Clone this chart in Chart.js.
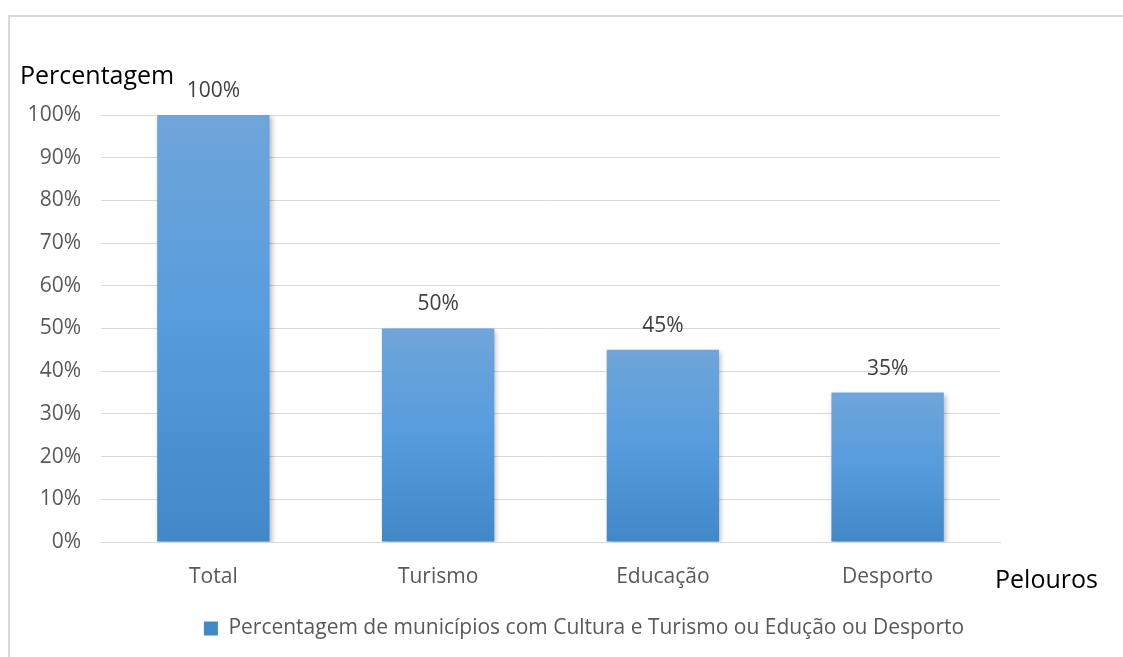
<!DOCTYPE html>
<html>
<head>
<meta charset="utf-8">
<script src="https://cdn.jsdelivr.net/npm/chart.js@4.4.1/dist/chart.umd.min.js"></script>
<style>
  html, body { margin: 0; padding: 0; background: #fff; overflow: hidden; }
  #frame {
    position: absolute; left: 8px; top: 15px;
    width: 1150px; height: 660px;
    border: 2px solid #d9d9d9; overflow: hidden;
  }
  #wrap { position: absolute; left: 0; top: 0; width: 1148px; height: 640px; }
</style>
</head>
<body>
<div id="frame"><div id="wrap"><canvas id="chart"></canvas></div></div>
<script>
// data
const pelouros = ['Total', 'Turismo', 'Educação', 'Desporto'];
const percentagens = [100, 50, 45, 35];
const yTicks = [0, 10, 20, 30, 40, 50, 60, 70, 80, 90, 100];
const serieNome = 'Percentagem de municípios com Cultura e Turismo ou Edução ou Desporto';

const FONT = "'Open Sans', sans-serif";

function barFill(ctx) {
    const chart = ctx.chart;
    if (!chart.chartArea || ctx.type !== 'data') return '#5A9BDB';
    const y = chart.scales.y;
    const top = y.getPixelForValue(ctx.raw);
    const bottom = y.getPixelForValue(0);
    const g = chart.ctx.createLinearGradient(0, top, 0, bottom);
    g.addColorStop(0, '#6FA5DA');
    g.addColorStop(0.5, '#569CDD');
    g.addColorStop(1, '#4188C9');
    return g;
}

// soft shadow under the bars
const barShadow = {
    id: 'barShadow',
    beforeDatasetsDraw(chart) {
        const c = chart.ctx;
        c.save();
        c.shadowColor = 'rgba(0,0,0,0.28)';
        c.shadowBlur = 5;
        c.shadowOffsetX = 2;
        c.shadowOffsetY = 2;
    },
    afterDatasetsDraw(chart) {
        chart.ctx.restore();
    }
};

// value labels + axis names
const extraText = {
    id: 'extraText',
    afterDraw(chart) {
        const c = chart.ctx;
        const meta = chart.getDatasetMeta(0);
        c.save();
        c.font = '21px ' + FONT;
        c.fillStyle = '#404040';
        c.textAlign = 'center';
        c.textBaseline = 'middle';
        meta.data.forEach((bar, i) => {
            c.fillText(percentagens[i] + '%', bar.x, bar.y - 24);
        });
        c.font = '25px ' + FONT;
        c.fillStyle = '#000';
        c.textAlign = 'left';
        c.fillText('Percentagem', 10, 60);
        c.fillText('Pelouros', 985, 564);
        c.restore();
    }
};

new Chart(document.getElementById('chart'), {
    type: 'bar',
    data: {
        labels: pelouros,
        datasets: [{
            label: serieNome,
            data: percentagens,
            backgroundColor: barFill,
            borderWidth: 0,
            barPercentage: 1,
            categoryPercentage: 0.5
        }]
    },
    options: {
        responsive: true,
        maintainAspectRatio: false,
        animation: false,
        layout: { padding: { top: 98, bottom: 8, left: 0, right: 0 } },
        plugins: {
            tooltip: { enabled: false },
            legend: {
                position: 'bottom',
                labels: {
                    boxWidth: 14, boxHeight: 14, padding: 10,
                    color: '#595959',
                    font: { family: FONT, size: 21 }
                }
            }
        },
        scales: {
            x: {
                grid: { display: false, drawTicks: false },
                border: { display: true, color: '#d9d9d9', width: 1 },
                ticks: { color: '#595959', padding: 22, font: { family: FONT, size: 21 } },
                afterFit(s) { s.height = 66; }
            },
            y: {
                min: 0, max: 100,
                afterBuildTicks(s) { s.ticks = yTicks.map(v => ({ value: v })); },
                grid: { color: '#d9d9d9', lineWidth: 1, drawTicks: false },
                border: { display: false },
                ticks: {
                    color: '#595959', padding: 20,
                    font: { family: FONT, size: 21 },
                    callback: v => v + '%'
                },
                afterFit(s) { s.width = 91; }
            },
            y2: {
                position: 'right',
                min: 0, max: 100,
                grid: { display: false, drawTicks: false },
                border: { display: false },
                ticks: { display: false },
                afterFit(s) { s.width = 158; }
            }
        }
    },
    plugins: [barShadow, extraText]
});
</script>
</body>
</html>
